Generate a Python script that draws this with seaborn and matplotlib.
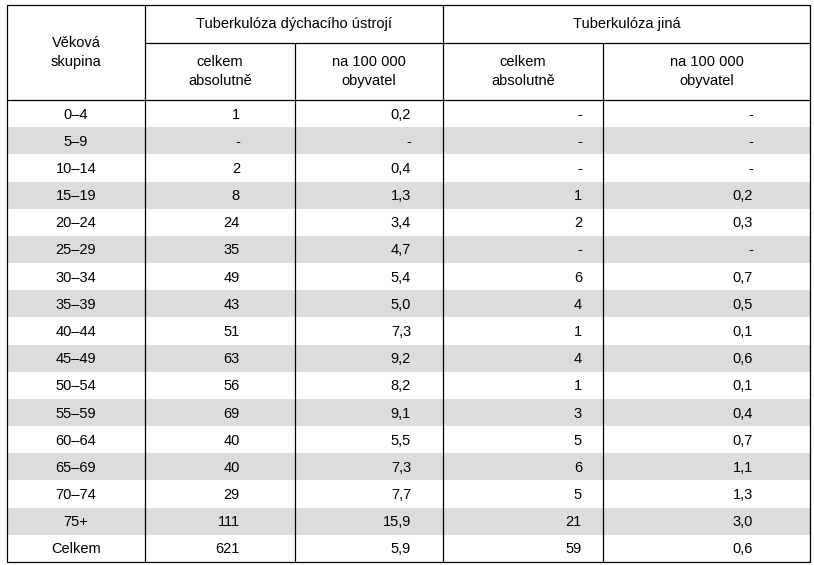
import matplotlib
matplotlib.use("Agg")
import matplotlib.pyplot as plt
import seaborn as sns
from matplotlib.patches import Rectangle

sns.set_theme(style="white", font="Liberation Sans", rc={"text.color": "black"})

age_groups = ["0–4","5–9","10–14","15–19","20–24","25–29","30–34","35–39","40–44",
              "45–49","50–54","55–59","60–64","65–69","70–74","75+","Celkem"]
resp_abs = ["1","-","2","8","24","35","49","43","51","63","56","69","40","40","29","111","621"]
resp_rate = ["0,2","-","0,4","1,3","3,4","4,7","5,4","5,0","7,3","9,2","8,2","9,1","5,5","7,3","7,7","15,9","5,9"]
other_abs = ["-","-","-","1","2","-","6","4","1","4","1","3","5","6","5","21","59"]
other_rate = ["-","-","-","0,2","0,3","-","0,7","0,5","0,1","0,6","0,1","0,4","0,7","1,1","1,3","3,0","0,6"]

W, H = 814, 565
fig = plt.figure(figsize=(W/100, H/100), dpi=100)
ax = fig.add_axes([0, 0, 1, 1])
ax.set_xlim(0, W); ax.set_ylim(H, 0); ax.axis("off")

xs = [7, 145, 295, 443, 603, 810]
y_top, y_mid, y_hdr, y_bot = 5, 43, 100, 562
n = len(age_groups)
rh = (y_bot - y_hdr) / n
fs = 10.5
lw = 0.9
tk = dict(va="center", fontsize=fs, color="black")

for i in range(n):
    y0 = y_hdr + i*rh
    if i % 2 == 1:
        ax.add_patch(Rectangle((xs[0], y0), xs[-1]-xs[0], rh, color="#dcdcdc", lw=0))
    yc = y0 + rh/2 + 1
    ax.text((xs[0]+xs[1])/2, yc, age_groups[i], ha="center", **tk)
    ax.text(240, yc, resp_abs[i], ha="right", **tk)
    ax.text(411, yc, resp_rate[i], ha="right", **tk)
    ax.text(582, yc, other_abs[i], ha="right", **tk)
    ax.text(753, yc, other_rate[i], ha="right", **tk)

ax.text((xs[0]+xs[1])/2, (y_top+y_hdr)/2, "Věková\nskupina", ha="center", linespacing=1.4, **tk)
ax.text((xs[1]+xs[3])/2, (y_top+y_mid)/2, "Tuberkulóza dýchacího ústrojí", ha="center", **tk)
ax.text((xs[3]+xs[5])/2, (y_top+y_mid)/2, "Tuberkulóza jiná", ha="center", **tk)
subs = ["celkem\nabsolutně", "na 100 000\nobyvatel", "celkem\nabsolutně", "na 100 000\nobyvatel"]
for j, s in enumerate(subs):
    ax.text((xs[j+1]+xs[j+2])/2, (y_mid+y_hdr)/2, s, ha="center", linespacing=1.4, **tk)

k = dict(color="black", lw=lw)
ax.plot([xs[0], xs[-1], xs[-1], xs[0], xs[0]], [y_top, y_top, y_bot, y_bot, y_top], **k)
ax.plot([xs[1], xs[-1]], [y_mid, y_mid], **k)
ax.plot([xs[0], xs[-1]], [y_hdr, y_hdr], **k)
for x in (xs[1], xs[3]):
    ax.plot([x, x], [y_top, y_bot], **k)
for x in (xs[2], xs[4]):
    ax.plot([x, x], [y_mid, y_bot], **k)

fig.savefig("out.png", dpi=100, facecolor="white")
